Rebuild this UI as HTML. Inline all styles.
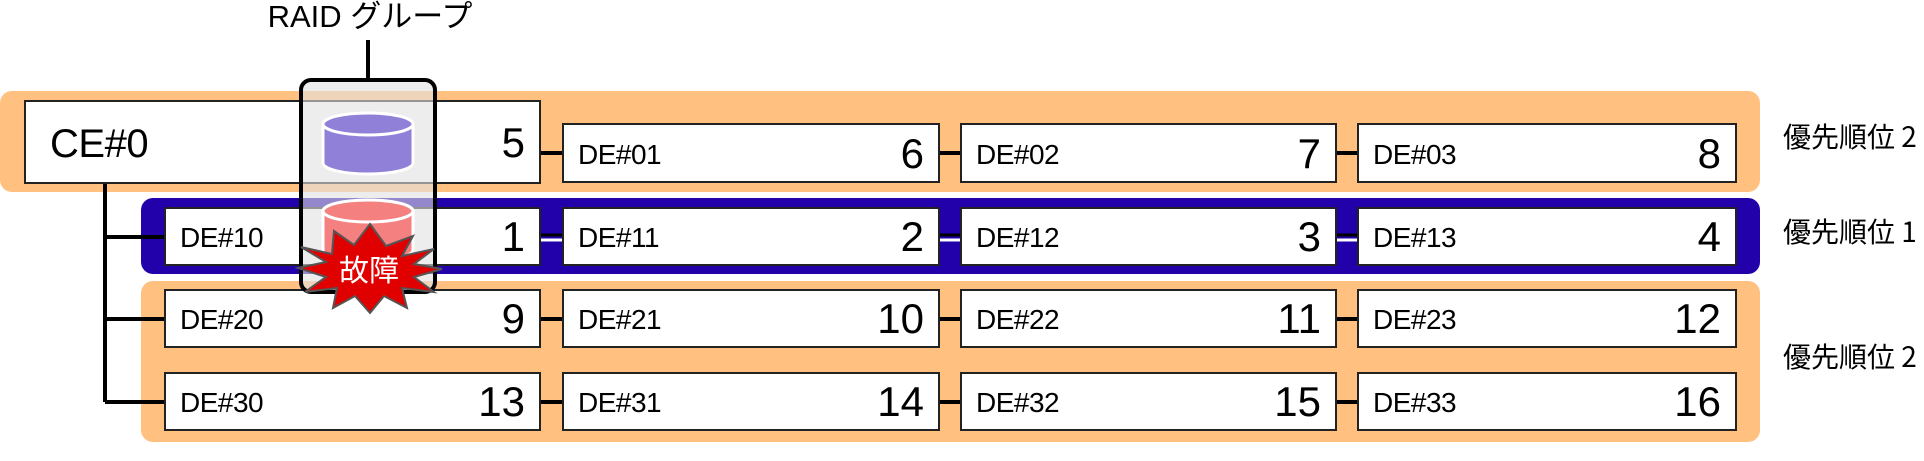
<!DOCTYPE html>
<html><head><meta charset="utf-8"><style>
body{margin:0;width:1924px;height:461px;background:#fff;position:relative;overflow:hidden;font-family:"Liberation Sans","Noto Sans CJK JP",sans-serif}
.band{position:absolute;border-radius:12px}
.box{position:absolute;background:#fff;border:2px solid #222;box-sizing:border-box}
.box .l{position:absolute;left:14px;bottom:12px;font-size:28px;line-height:1;letter-spacing:-0.5px}
.box .n{position:absolute;right:14px;bottom:6px;font-size:42px;line-height:1}
.lab{position:absolute;left:1783px;font-size:28px;line-height:1;font-family:"Noto Sans CJK JP","Liberation Sans",sans-serif}
</style></head><body>
<div class="band" style="left:0;top:91px;width:1760px;height:101px;background:#ffc080"></div>
<div class="band" style="left:141px;top:198px;width:1619px;height:76px;background:#2200aa"></div>
<div class="band" style="left:141px;top:281px;width:1619px;height:161px;background:#ffc080"></div>

<svg style="position:absolute;left:0;top:0" width="1924" height="461">
<g stroke="#000" stroke-width="4" fill="none">
<path d="M105 183 V402 M105 237 H165 M105 319 H165 M105 402 H165"/>
<path d="M540 153 H562 M940 153 H960 M1337 153 H1357"/>
<path d="M540 402 H562 M940 402 H960 M1337 402 H1357 M540 319 H562 M940 319 H960 M1337 319 H1357"/>
</g>
<g stroke="#fff" stroke-width="3"><path d="M540 240 H562 M940 240 H960 M1337 240 H1357"/></g>
<g stroke="#000" stroke-width="3"><path d="M540 235 H562 M940 235 H960 M1337 235 H1357"/></g>
</svg>

<div class="box" style="left:24px;top:100px;width:517px;height:84px"><span class="l" style="font-size:40px;top:22px;bottom:auto;left:24px">CE#0</span><span class="n" style="top:20px;bottom:auto">5</span></div>
<div class="box" style="left:562px;top:123px;width:378px;height:60px"><span class="l">DE#01</span><span class="n">6</span></div>
<div class="box" style="left:960px;top:123px;width:377px;height:60px"><span class="l">DE#02</span><span class="n">7</span></div>
<div class="box" style="left:1357px;top:123px;width:380px;height:60px"><span class="l">DE#03</span><span class="n">8</span></div>

<div class="box" style="left:164px;top:207px;width:377px;height:59px"><span class="l">DE#10</span><span class="n">1</span></div>
<div class="box" style="left:562px;top:207px;width:378px;height:59px"><span class="l">DE#11</span><span class="n">2</span></div>
<div class="box" style="left:960px;top:207px;width:377px;height:59px"><span class="l">DE#12</span><span class="n">3</span></div>
<div class="box" style="left:1357px;top:207px;width:380px;height:59px"><span class="l">DE#13</span><span class="n">4</span></div>

<div class="box" style="left:164px;top:289px;width:377px;height:59px"><span class="l">DE#20</span><span class="n">9</span></div>
<div class="box" style="left:562px;top:289px;width:378px;height:59px"><span class="l">DE#21</span><span class="n">10</span></div>
<div class="box" style="left:960px;top:289px;width:377px;height:59px"><span class="l">DE#22</span><span class="n">11</span></div>
<div class="box" style="left:1357px;top:289px;width:380px;height:59px"><span class="l">DE#23</span><span class="n">12</span></div>

<div class="box" style="left:164px;top:372px;width:377px;height:59px"><span class="l">DE#30</span><span class="n">13</span></div>
<div class="box" style="left:562px;top:372px;width:378px;height:59px"><span class="l">DE#31</span><span class="n">14</span></div>
<div class="box" style="left:960px;top:372px;width:377px;height:59px"><span class="l">DE#32</span><span class="n">15</span></div>
<div class="box" style="left:1357px;top:372px;width:380px;height:59px"><span class="l">DE#33</span><span class="n">16</span></div>

<div class="lab" style="top:122px">優先順位 2</div>
<div class="lab" style="top:217px">優先順位 1</div>
<div class="lab" style="top:342px">優先順位 2</div>

<svg style="position:absolute;left:0;top:0" width="1924" height="461">
<rect x="301" y="80" width="134" height="212" rx="10" fill="rgba(225,225,225,0.6)" stroke="#000" stroke-width="4"/>
<line x1="368" y1="40" x2="368" y2="80" stroke="#000" stroke-width="4"/>
<g stroke="#fff" stroke-width="3">
<path d="M323 124 V163 A45 11 0 0 0 413 163 V124" fill="#9080d8"/>
<ellipse cx="368" cy="124" rx="45" ry="11" fill="#9080d8"/>
<path d="M323 211 V250 A45 11 0 0 0 413 250 V211" fill="#f48080"/>
<ellipse cx="368" cy="211" rx="45" ry="11" fill="#f48080"/>
</g>
<polygon fill="#e00000" stroke="#555" stroke-width="2" points="370,224 386,246 413,236 402,256 434,249 414,264 442,269 414,277 434,292 402,288 407,308 384,296 370,313 355,296 333,308 337,288 305,292 326,277 298,268 326,262 301,247 332,254 334,231 354,245"/>
<text x="369" y="281" text-anchor="middle" fill="#fff" font-size="30" font-family="Noto Sans CJK JP, sans-serif">故障</text>
</svg>
<div style="position:absolute;left:240px;top:0px;width:260px;text-align:center;font-size:31px;line-height:34px;font-family:'Liberation Sans','Noto Sans CJK JP',sans-serif">RAID グループ</div>
</body></html>
